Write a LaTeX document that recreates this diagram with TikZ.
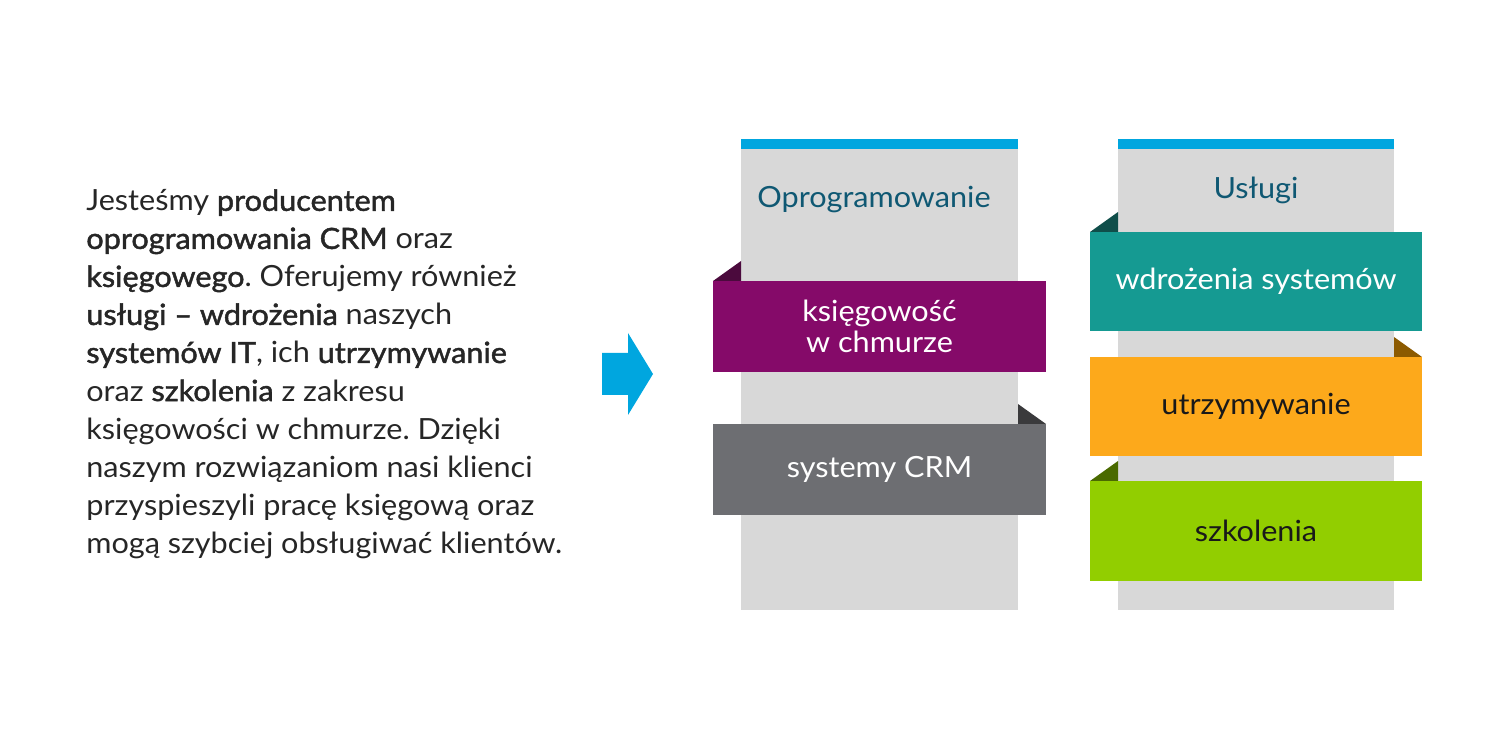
\documentclass[tikz,border=0pt]{standalone}
\usepackage{fontspec}
\setmainfont{Lato}[FakeStretch=1.05,BoldFont=Lato,BoldFeatures={FakeBold=1.6}]
\usetikzlibrary{positioning,calc}
\definecolor{barblue}{HTML}{00A6DF}
\definecolor{panelgray}{HTML}{D8D8D8}
\definecolor{titleblue}{HTML}{0F5873}
\definecolor{plum}{HTML}{850A69}
\definecolor{plumdark}{HTML}{4B0A3D}
\definecolor{slate}{HTML}{6D6E72}
\definecolor{slatedark}{HTML}{3A3A3C}
\definecolor{teal}{HTML}{159A92}
\definecolor{tealdark}{HTML}{0F4E4A}
\definecolor{amber}{HTML}{FDA91B}
\definecolor{amberdark}{HTML}{8C5A00}
\definecolor{lime}{HTML}{92CE00}
\definecolor{limedark}{HTML}{4A6A00}
\frenchspacing

\begin{document}
\begin{tikzpicture}[x=0.02cm,y=-0.02cm,
    txt/.style={font=\fontsize{16.6}{21.65}\selectfont,inner sep=0pt},
    title/.style={txt,text=titleblue},
    band/.style={txt,minimum width=6.65cm,minimum height=1.84cm,align=center}]
        \useasboundingbox (0,0) rectangle (1500,749);

        % paragraph
        \node[txt,anchor=north west,align=left,text=black!85] (para) at (86,189)
            {Jesteśmy \textbf{producentem}\\
             \textbf{oprogramowania CRM} oraz\\
             \textbf{księgowego}. Oferujemy również\\
             \textbf{usługi – wdrożenia} naszych\\
             \textbf{systemów IT}, ich \textbf{utrzymywanie}\\
             oraz \textbf{szkolenia} z zakresu\\
             księgowości w chmurze. Dzięki\\
             naszym rozwiązaniom nasi klienci\\
             przyspieszyli pracę księgową oraz\\
             mogą szybciej obsługiwać klientów.};

        % arrow
        \fill[barblue] (602,353)--(628,353)--(628,333)--(653,374)--(628,415)--(628,395)--(602,395)--cycle;

        % panels
        \fill[panelgray] (741,139) rectangle (1018,610);
        \fill[barblue] (741,139) rectangle (1018,149);
        \fill[panelgray] (1118,139) rectangle (1394,610);
        \fill[barblue] (1118,139) rectangle (1394,149);
        \node[title] (soft) at (874,200) {Oprogramowanie};
        \node[title] (serv) at (1256,190) {Usługi};

        % left bands
        \fill[plumdark] (713,281)--(741,261)--(741,281)--cycle;
        \node[band,fill=plum,text=white,font=\fontsize{16.6}{17.6}\selectfont] (cloud) at (879.5,326.5) {księgowość\\w chmurze};
        \fill[slatedark] (1018,404)--(1046,424)--(1018,424)--cycle;
        \node[band,fill=slate,text=white] (crm) at (879.5,469.5) {systemy CRM};

        % right bands
        \fill[tealdark] (1090,232)--(1118,212)--(1118,232)--cycle;
        \node[band,fill=teal,text=white,minimum height=1.98cm] (impl) at (1256,281.5) {wdrożenia systemów};
        \fill[amberdark] (1394,337)--(1422,357)--(1394,357)--cycle;
        \node[band,fill=amber,text=black!90,minimum height=1.98cm] (maint) at (1256,406.5) {utrzymywanie};
        \fill[limedark] (1090,481)--(1118,461)--(1118,481)--cycle;
        \node[band,fill=lime,text=black!90,minimum height=2cm] (train) at (1256,531) {szkolenia};
\end{tikzpicture}
\end{document}
